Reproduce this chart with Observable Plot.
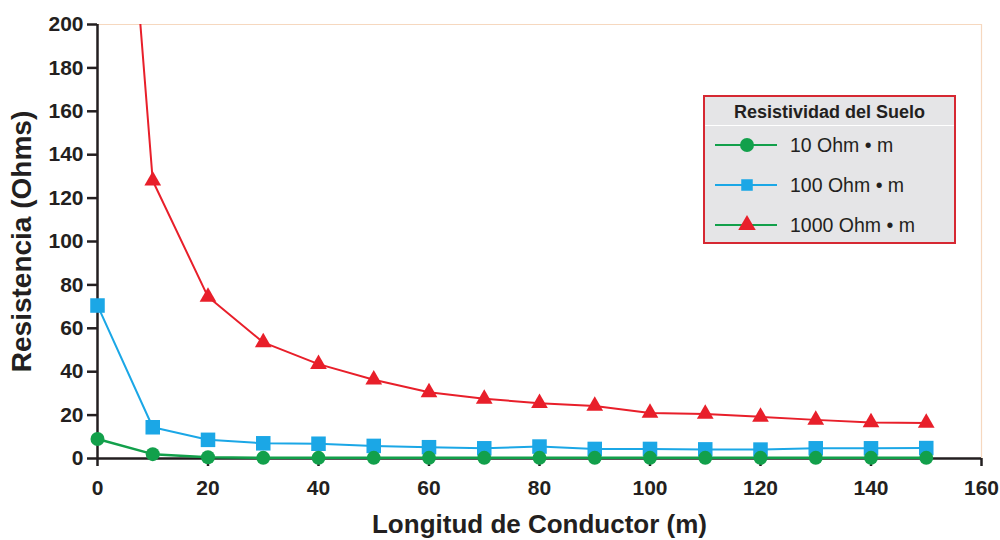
<!DOCTYPE html>
<html>
<head>
<meta charset="utf-8">
<script src="https://cdn.jsdelivr.net/npm/d3@7"></script>
<script src="https://cdn.jsdelivr.net/npm/@observablehq/plot@0.6"></script>
<style>
  html, body { margin: 0; padding: 0; background: #ffffff; }
  #wrap { position: relative; width: 1000px; height: 540px; }
  g[aria-label="x-axis label"] text { font-size: 26px; }
  g[aria-label="y-axis label"] text { font-size: 28px; }
  #legend {
    position: absolute; left: 703px; top: 95px; width: 249px; height: 145px;
    background: #e5e5e7; border: 2px solid #d62832;
    font-family: "Liberation Sans", Arial, sans-serif; color: #231f20;
  }
  #legend .title {
    height: 28px; border-bottom: 1.5px solid #ffffff; text-align: center;
    font-family: "Liberation Sans Narrow", "Liberation Sans", Arial, sans-serif;
    font-weight: bold; font-size: 18px; line-height: 30px;
  }
  #legend .row { position: absolute; left: 0; height: 30px; display: flex; align-items: center; }
  #legend .row span { font-size: 19.5px; margin-left: 10px; }
</style>
</head>
<body>
<div id="wrap"></div>
<script>
// Conductor length (m)
const longitud = [0, 10, 20, 30, 40, 50, 60, 70, 80, 90, 100, 110, 120, 130, 140, 150];
// Resistance (Ohms) for each soil resistivity
const r10   = [9, 2, 0.6, 0.3, 0.3, 0.3, 0.3, 0.3, 0.3, 0.3, 0.3, 0.3, 0.3, 0.3, 0.3, 0.3];
const r100  = [70.5, 14.4, 8.6, 7, 6.8, 5.8, 5.2, 4.7, 5.5, 4.4, 4.4, 4.2, 4.1, 4.7, 4.7, 4.8];
const r1000 = [450, 128, 74.5, 53.5, 43.5, 36.3, 30.5, 27.5, 25.5, 24.2, 21, 20.5, 19.2, 17.8, 16.6, 16.4];
const xTicks = [0, 20, 40, 60, 80, 100, 120, 140, 160];
const yTicks = [0, 20, 40, 60, 80, 100, 120, 140, 160, 180, 200];
const seriesNames = ["10 Ohm \u2022 m", "100 Ohm \u2022 m", "1000 Ohm \u2022 m"];

const COL_GREEN = "#12a04b";
const COL_BLUE = "#1ba7e6";
const COL_RED = "#e81f2a";

const rows = (vals) => longitud.map((x, i) => ({x, y: vals[i]}));
const d10 = rows(r10), d100 = rows(r100), d1000 = rows(r1000);

const plot = Plot.plot({
  width: 1000,
  height: 540,
  marginLeft: 97,
  marginRight: 19,
  marginTop: 24,
  marginBottom: 82,
  style: {
    fontFamily: "'Liberation Sans', Arial, sans-serif",
    fontSize: "21px",
    fontWeight: "bold",
    color: "#231f20",
    background: "#ffffff"
  },
  x: {domain: [0, 160]},
  y: {domain: [0, 200]},
  marks: [
    Plot.ruleY([200], {stroke: "#f6d8bf", strokeWidth: 1.2}),
    Plot.ruleX([160], {stroke: "#f6d8bf", strokeWidth: 1.2}),
    Plot.axisX({ticks: xTicks, tickSize: 8, tickPadding: 14, strokeWidth: 2.5,
      label: "Longitud de Conductor (m)", labelAnchor: "center", labelOffset: 74, labelArrow: "none"}),
    Plot.axisY({ticks: yTicks, tickSize: 10, tickPadding: 4, strokeWidth: 2.5,
      label: "Resistencia (Ohms)", labelAnchor: "center", labelOffset: 86, labelArrow: "none"}),
    Plot.ruleY([0], {stroke: "#231f20", strokeWidth: 2.5}),
    Plot.ruleX([0], {stroke: "#231f20", strokeWidth: 2.5}),
    Plot.line(d1000, {x: "x", y: "y", stroke: COL_RED, strokeWidth: 2, clip: true}),
    Plot.line(d100, {x: "x", y: "y", stroke: COL_BLUE, strokeWidth: 2, clip: true}),
    Plot.line(d10, {x: "x", y: "y", stroke: COL_GREEN, strokeWidth: 2.5}),
    Plot.dot(d1000, {x: "x", y: "y", symbol: "triangle", r: 6.2, fill: COL_RED, clip: true}),
    Plot.dot(d100, {x: "x", y: "y", symbol: "square", r: 8.2, fill: COL_BLUE}),
    Plot.dot(d10, {x: "x", y: "y", symbol: "circle", r: 7, fill: COL_GREEN})
  ]
});

const wrap = document.getElementById("wrap");
wrap.appendChild(plot);

// Legend (inside the plot area, top right)
const legend = document.createElement("div");
legend.id = "legend";
const title = document.createElement("div");
title.className = "title";
title.textContent = "Resistividad del Suelo";
legend.appendChild(title);

const legendItems = [
  {name: seriesNames[0], line: COL_GREEN, fill: COL_GREEN, symbol: d3.symbolCircle, size: Math.PI * 7 * 7},
  {name: seriesNames[1], line: COL_BLUE, fill: COL_BLUE, symbol: d3.symbolSquare, size: Math.PI * 6.5 * 6.5},
  {name: seriesNames[2], line: COL_GREEN, fill: COL_RED, symbol: d3.symbolTriangle, size: Math.PI * 6.5 * 6.5}
];
legendItems.forEach((it, i) => {
  const row = document.createElement("div");
  row.className = "row";
  row.style.top = (33 + i * 40) + "px";
  const svg = d3.create("svg").attr("width", 75).attr("height", 30);
  svg.append("line").attr("x1", 10).attr("x2", 72).attr("y1", 15).attr("y2", 15)
    .attr("stroke", it.line).attr("stroke-width", 2.2);
  svg.append("path").attr("d", d3.symbol(it.symbol, it.size)())
    .attr("transform", "translate(42,15)").attr("fill", it.fill);
  row.appendChild(svg.node());
  const label = document.createElement("span");
  label.textContent = it.name;
  row.appendChild(label);
  legend.appendChild(row);
});
wrap.appendChild(legend);
</script>
</body>
</html>
